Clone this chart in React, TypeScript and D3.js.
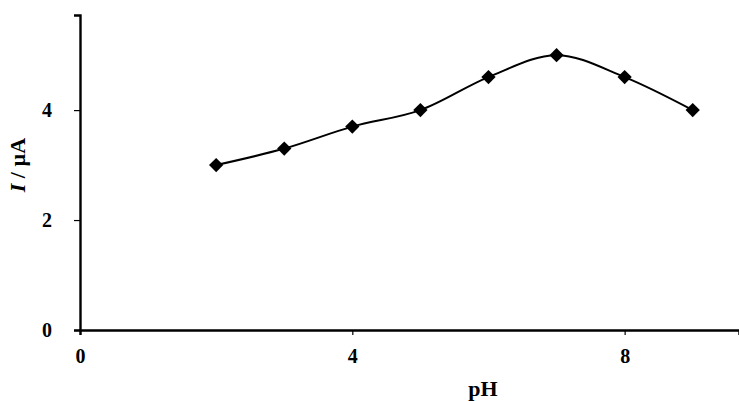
import { useRef, useEffect } from "react";
import * as d3 from "d3";

const phValues = [2, 3, 4, 5, 6, 7, 8, 9];
const currentValues = [3.0, 3.3, 3.7, 4.0, 4.6, 5.0, 4.6, 4.0];
const xTicks = [0, 4, 8];
const yTicks = [0, 2, 4];

const W = 739;
const H = 401;

export default function App() {
  const svgRef = useRef<SVGSVGElement | null>(null);

  useEffect(() => {
    const svg = d3.select(svgRef.current);
    svg.selectAll("*").remove();

    const m = { top: 15, right: 0, bottom: 71, left: 80 };
    const x = d3.scaleLinear().domain([0, 9.68]).range([m.left, W - m.right]);
    const y = d3.scaleLinear().domain([0, 5.73]).range([H - m.bottom, m.top]);
    const font = "'Liberation Serif', 'Times New Roman', serif";

    const data = phValues.map((p, i) => ({ p, v: currentValues[i] }));

    // x axis
    svg
      .append("g")
      .attr("transform", `translate(0,${y(0)})`)
      .call(d3.axisBottom(x).tickValues(xTicks).tickSize(5).tickPadding(14).tickFormat(d3.format("d")))
      .call((g) => {
        g.select(".domain").attr("stroke", "#000").attr("stroke-width", 2.4);
        g.selectAll("line").attr("stroke", "#000").attr("stroke-width", 1.2);
        g.selectAll("text")
          .attr("fill", "#000")
          .attr("font-size", "20px")
          .attr("font-weight", "bold")
          .attr("font-family", font);
      });

    // y axis
    svg
      .append("g")
      .attr("transform", `translate(${x(0)},0)`)
      .call(d3.axisLeft(y).tickValues(yTicks).tickSize(6).tickPadding(22).tickFormat(d3.format("d")))
      .call((g) => {
        g.select(".domain").attr("stroke", "#000").attr("stroke-width", 2.4);
        g.selectAll("line").attr("stroke", "#000").attr("stroke-width", 1.2);
        g.selectAll("text")
          .attr("fill", "#000")
          .attr("font-size", "20px")
          .attr("font-weight", "bold")
          .attr("font-family", font);
      });

    // smoothed line
    const line = d3
      .line<{ p: number; v: number }>()
      .x((d) => x(d.p))
      .y((d) => y(d.v))
      .curve(d3.curveCatmullRom.alpha(0.5));

    svg
      .append("path")
      .datum(data)
      .attr("fill", "none")
      .attr("stroke", "#000")
      .attr("stroke-width", 2)
      .attr("d", line);

    // diamond markers
    const diamond = d3.symbol().type(d3.symbolDiamond2).size(130);
    svg
      .selectAll(".pt")
      .data(data)
      .enter()
      .append("path")
      .attr("class", "pt")
      .attr("transform", (d) => `translate(${x(d.p)},${y(d.v)})`)
      .attr("d", diamond)
      .attr("fill", "#000");

    // axis titles
    svg
      .append("text")
      .attr("x", 483)
      .attr("y", 396)
      .attr("text-anchor", "middle")
      .attr("font-family", font)
      .attr("font-size", "22px")
      .attr("font-weight", "bold")
      .text("pH");

    const yt = svg
      .append("text")
      .attr("transform", `translate(25,${y(3)}) rotate(-90)`)
      .attr("text-anchor", "middle")
      .attr("font-family", font)
      .attr("font-size", "22px")
      .attr("font-weight", "bold");
    yt.append("tspan").attr("font-style", "italic").text("I");
    yt.append("tspan").text(" / µA");
  }, []);

  return (
    <div style={{ position: "fixed", left: 0, top: 0, width: W, height: H, background: "#fff" }}>
      <svg ref={svgRef} width={W} height={H} style={{ display: "block" }} />
    </div>
  );
}
